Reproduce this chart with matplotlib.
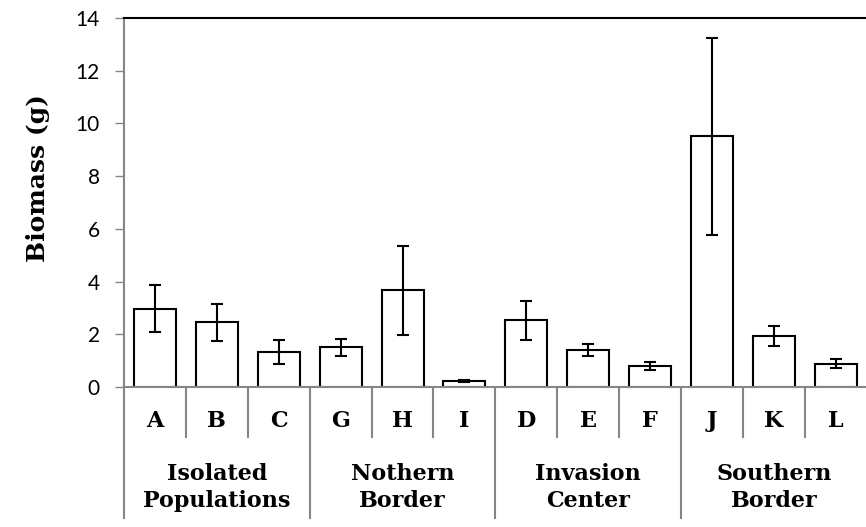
import matplotlib
matplotlib.use("Agg")
import matplotlib.pyplot as plt
import matplotlib.transforms as mtransforms

# data
sites = ['A', 'B', 'C', 'G', 'H', 'I', 'D', 'E', 'F', 'J', 'K', 'L']
biomass = [2.97, 2.45, 1.32, 1.51, 3.67, 0.22, 2.53, 1.40, 0.80, 9.51, 1.93, 0.89]
errors = [0.88, 0.70, 0.46, 0.32, 1.68, 0.03, 0.73, 0.22, 0.14, 3.74, 0.38, 0.18]
groups = ['Isolated\nPopulations', 'Nothern\nBorder', 'Invasion\nCenter', 'Southern\nBorder']
yticks = [0, 2, 4, 6, 8, 10, 12, 14]

serif = ['DejaVu Serif']
sans = ['Lato', 'DejaVu Sans']
grey = '#868686'

fig = plt.figure(figsize=(8.66, 5.27), dpi=100)
ax = fig.add_axes([0.1432, 0.2657, 0.8577, 0.7002])

x = list(range(len(sites)))
ax.bar(x, biomass, width=0.68, color='white', edgecolor='black', linewidth=1.5, zorder=2)
ax.errorbar(x, biomass, yerr=errors, fmt='none', ecolor='black', elinewidth=1.5,
            capsize=4.5, capthick=1.5, zorder=3)

ax.set_xlim(-0.5, len(sites) - 0.5)
ax.set_ylim(0, 14)
ax.set_yticks(yticks)
ax.set_yticklabels([str(t) for t in yticks], fontsize=15, family=sans)
ax.tick_params(axis='y', direction='out', length=6.5, width=1, color=grey, pad=11)
ax.set_xticks([])

ax.spines['right'].set_visible(False)
ax.spines['top'].set_color('black')
ax.spines['top'].set_linewidth(1.5)
for s in ['left', 'bottom']:
    ax.spines[s].set_color(grey)
    ax.spines[s].set_linewidth(1.5)

ax.set_ylabel('Biomass (g)', fontsize=18, fontweight='bold', family=serif)
ax.yaxis.set_label_coords(-(124 - 50) / 742.8, 1 - (178 - 18) / 369)

# category axis: letters, groups and separator lines
trans = mtransforms.blended_transform_factory(ax.transData, ax.transAxes)
for i, s in enumerate(sites):
    ax.text(i, -0.092, s, transform=trans, ha='center', va='center',
            fontsize=16, fontweight='bold', family=serif)
for i in range(1, len(sites)):
    low = -0.355 if i % 3 == 0 else -0.1355
    ax.plot([i - 0.5, i - 0.5], [0, low], transform=trans, color=grey,
            linewidth=1.5, clip_on=False)
ax.plot([-0.5, -0.5], [0, -0.355], transform=trans, color=grey, linewidth=1.5, clip_on=False)
for g, name in enumerate(groups):
    ax.text(3 * g + 1, -0.272, name, transform=trans, ha='center', va='center',
            fontsize=16, fontweight='bold', family=serif, linespacing=1.3)

fig.savefig('out.png', dpi=100)
